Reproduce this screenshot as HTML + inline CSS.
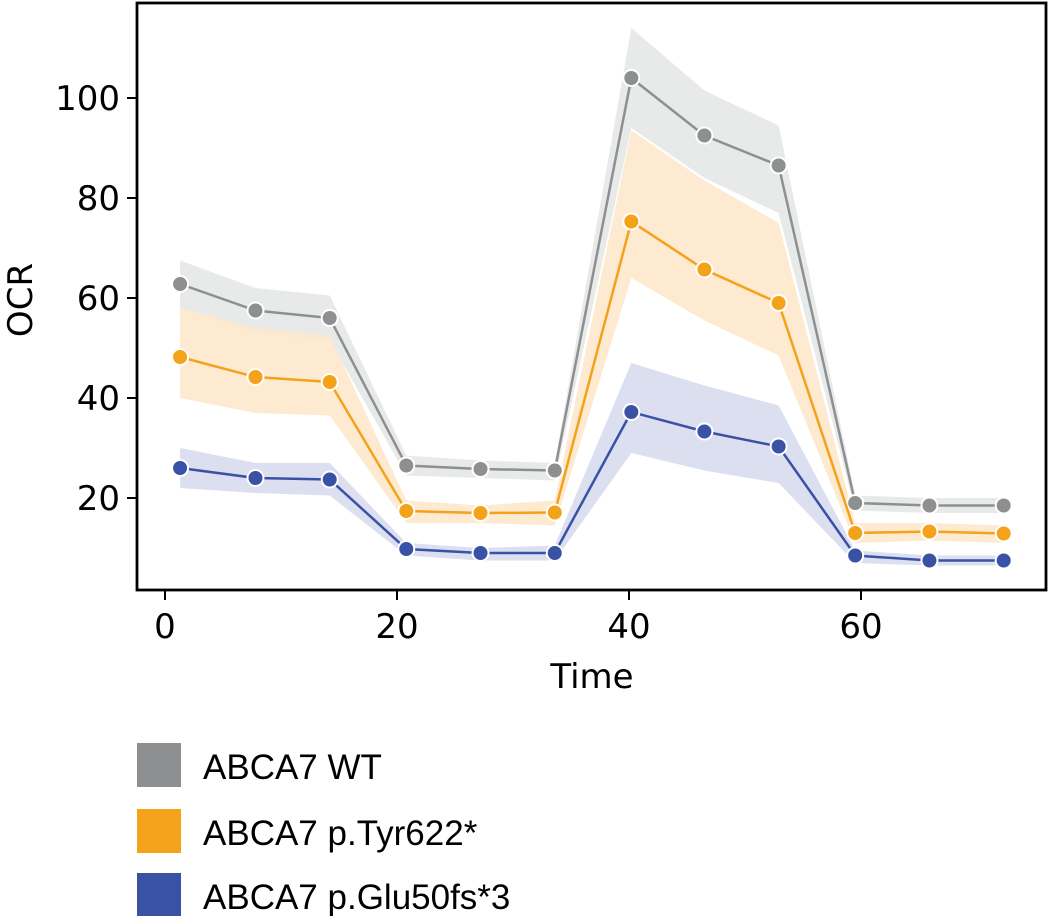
<!DOCTYPE html>
<html><head><meta charset="utf-8"><style>
html,body{margin:0;padding:0;background:#fff;}
svg{display:block;font-family:"DejaVu Sans","Liberation Sans",sans-serif;}
</style></head><body>
<svg id="chart" width="1049" height="916"></svg>
<script>
const times=[1.3,7.8,14.2,20.8,27.2,33.6,40.2,46.5,52.9,59.5,65.9,72.3];
const wtMean=[62.8,57.5,56,26.5,25.8,25.5,104,92.5,86.5,19,18.5,18.5];
const wtHi=[67.5,62,60.5,28.5,27.5,27,114,101.5,94.5,20.5,20,20];
const wtLo=[58,53,51.5,24.5,24,23.5,94,84,77,17.5,17,17];
const tyrMean=[48.2,44.2,43.2,17.4,17,17.1,75.3,65.7,59,13,13.3,12.9];
const tyrHi=[58,54,52.5,19.5,18.5,19.5,93.5,83.5,75,15,15,14.5];
const tyrLo=[40,37,36.5,15,15,14.5,64,55.5,48.5,11,11.5,11];
const gluMean=[26,24,23.7,9.8,9,9,37.2,33.3,30.3,8.5,7.5,7.5];
const gluHi=[30,27,27,11,10,10.5,47,42.5,38.5,9.5,8.5,8.5];
const gluLo=[22,21,20.5,8.5,7.5,7.5,29,25.5,23,7,6.5,6.5];
const xTicks=[0,20,40,60];
const yTicks=[20,40,60,80,100];
const legendLabels=["ABCA7 WT","ABCA7 p.Tyr622*","ABCA7 p.Glu50fs*3"];

const NS="http://www.w3.org/2000/svg";
const svg=document.getElementById('chart');
const X=t=>165+t*11.6;
const Y=v=>598-v*5;
function mk(tag,attrs,parent){const e=document.createElementNS(NS,tag);for(const k in attrs)e.setAttribute(k,attrs[k]);(parent||svg).appendChild(e);return e;}

const series=[
 {name:'wt',mean:wtMean,hi:wtHi,lo:wtLo,color:'#8e8f91',band:'#e6e8e8'},
 {name:'tyr622',mean:tyrMean,hi:tyrHi,lo:tyrLo,color:'#f5a21b',band:'#fde8cb'},
 {name:'glu50fs',mean:gluMean,hi:gluHi,lo:gluLo,color:'#3a52a5',band:'#d7dcee'}
];
series.forEach(s=>{
 let d='M'+times.map((t,i)=>X(t)+','+Y(s.hi[i])).join('L');
 d+='L'+times.map((t,i)=>[X(t),Y(s.lo[i])]).reverse().map(p=>p.join(',')).join('L')+'Z';
 const b=mk('path',{d:d,fill:s.band,opacity:'0.9'});
 
 
});
series.forEach(s=>{
 const l=mk('polyline',{points:times.map((t,i)=>X(t)+','+Y(s.mean[i])).join(' '),fill:'none',stroke:s.color,'stroke-width':2.5});
 
 
 times.forEach((t,i)=>{
  const c=mk('circle',{cx:X(t),cy:Y(s.mean[i]),r:8,fill:s.color,stroke:'#fff','stroke-width':2});
  
  
 });
});
const frame=mk('rect',{x:137,y:3,width:909,height:587,fill:'none',stroke:'#000','stroke-width':2.8});


xTicks.forEach(t=>{
 mk('line',{x1:X(t),x2:X(t),y1:590,y2:600,stroke:'#000','stroke-width':2});
 const tx=mk('text',{x:X(t),y:638,'text-anchor':'middle','font-size':34});
 tx.textContent=t;
 
 
});
yTicks.forEach(v=>{
 mk('line',{x1:127,x2:137,y1:Y(v),y2:Y(v),stroke:'#000','stroke-width':2});
 const tx=mk('text',{x:120,y:Y(v)+12,'text-anchor':'end','font-size':34});
 tx.textContent=v;
 
 
});
const xt=mk('text',{x:592,y:688,'text-anchor':'middle','font-size':34});
xt.textContent='Time';


const yt=mk('text',{x:0,y:0,'text-anchor':'middle','font-size':34,transform:'translate(32,300) rotate(-90)'});
yt.textContent='OCR';


const legTops=[743,809,873];
series.forEach((s,i)=>{
 const r=mk('rect',{x:137,y:legTops[i],width:44,height:44,fill:s.color});
 
 
 const tx=mk('text',{x:203,y:legTops[i]+36,'font-size':35,'font-family':'"Liberation Sans",sans-serif'});
 tx.textContent=legendLabels[i];
 
 
});
</script>
</body></html>
